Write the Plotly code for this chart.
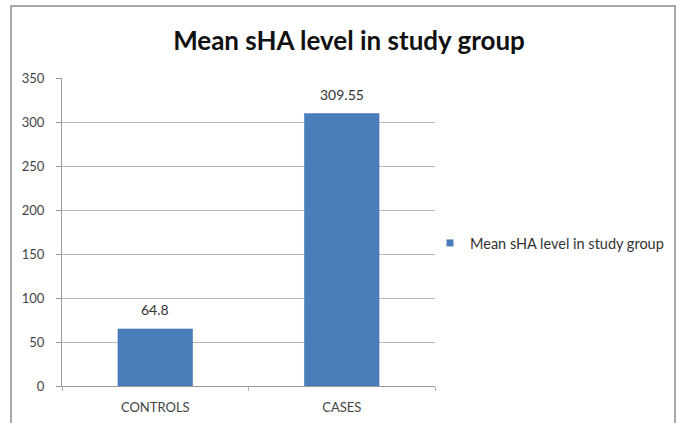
import plotly.graph_objects as go

categories = ["CONTROLS", "CASES"]
values = [64.8, 309.55]
value_labels = ["64.8", "309.55"]
series_name = "Mean sHA level in study group"
title_text = "Mean sHA level in study group"

L, R, T, B = 62, 245, 78, 37
W, H = 680, 423
pw = W - L - R
ph = H - T - B

def px_x(x):
    return (x - L) / pw

def px_y(y):
    return (H - B - y) / ph

FONT = "Lato"
BAR = "#4a7ebb"

fig = go.Figure()
fig.add_trace(go.Bar(
    x=categories, y=values, name=series_name,
    marker=dict(color=BAR, line=dict(color="#3e6fae", width=0.5)),
    showlegend=False,
))
# legend entry with a small square marker
fig.add_trace(go.Scatter(
    x=[None], y=[None], mode="markers", name=series_name,
    marker=dict(symbol="square", size=7, color=BAR),
    showlegend=True,
))

annotations = [
    dict(x=c, y=v, text=t, xref="x", yref="y", showarrow=False,
         yanchor="bottom", yshift=9,
         font=dict(family=FONT, size=14, color="#333333"))
    for c, v, t in zip(categories, values, value_labels)
]

fig.update_layout(
    width=W, height=H,
    margin=dict(l=L, r=R, t=T, b=B, autoexpand=False),
    paper_bgcolor="white", plot_bgcolor="white",
    bargap=0.6,
    title=dict(text=title_text, x=(349) / W, xanchor="center", y=1 - 41 / H, yanchor="middle",
               font=dict(family=FONT, size=26, color="#111111", weight="bold")),
    xaxis=dict(showgrid=False, showline=True, linecolor="#9a9a9a", linewidth=1,
               ticks="outside", tickson="boundaries", ticklen=4, tickcolor="#b0b0b0",
               ticklabelstandoff=9, automargin=False,
               tickfont=dict(family=FONT, size=13, color="#444444")),
    yaxis=dict(range=[0, 350], dtick=50, showgrid=True, gridcolor="#b8b8b8", gridwidth=1,
               showline=True, linecolor="#9a9a9a", ticks="outside", ticklen=5, tickcolor="#9a9a9a",
               zeroline=False, ticklabelstandoff=9, automargin=False,
               tickfont=dict(family=FONT, size=13, color="#444444")),
    legend=dict(x=px_x(430), y=px_y(243), xanchor="left", yanchor="middle",
                font=dict(family=FONT, size=14.5, color="#333333"),
                itemwidth=30, bgcolor="rgba(0,0,0,0)"),
    showlegend=True,
    annotations=annotations,
    shapes=[dict(type="rect", xref="paper", yref="paper",
                 x0=px_x(11), x1=px_x(675), y0=px_y(440), y1=px_y(6),
                 line=dict(color="#8a8a8a", width=1.5), layer="below")],
)

fig.write_html("out.html")
